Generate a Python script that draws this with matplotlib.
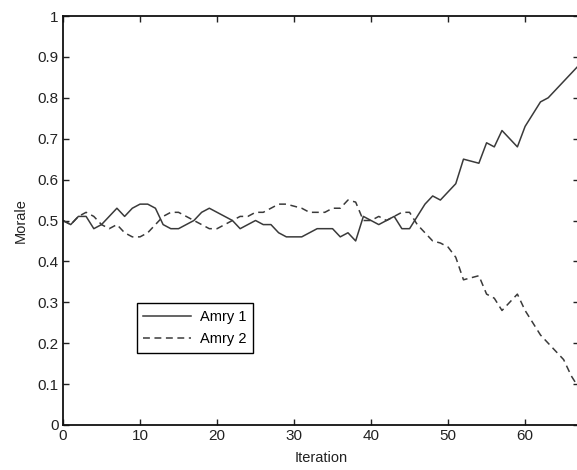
import numpy as np
import matplotlib
matplotlib.use("Agg")
import matplotlib.pyplot as plt

plt.rcParams['font.family'] = ['Liberation Sans', 'DejaVu Sans']

iterations = np.arange(0, 68)

army1 = [0.50, 0.49, 0.51, 0.51, 0.48, 0.49, 0.51, 0.53, 0.51, 0.53,
         0.54, 0.54, 0.53, 0.49, 0.48, 0.48, 0.49, 0.50, 0.52, 0.53,
         0.52, 0.51, 0.50, 0.48, 0.49, 0.50, 0.49, 0.49, 0.47, 0.46,
         0.46, 0.46, 0.47, 0.48, 0.48, 0.48, 0.46, 0.47, 0.45, 0.51,
         0.50, 0.49, 0.50, 0.51, 0.48, 0.48, 0.51, 0.54, 0.56, 0.55,
         0.57, 0.59, 0.65, 0.645, 0.64, 0.69, 0.68, 0.72, 0.70, 0.68,
         0.73, 0.76, 0.79, 0.80, 0.82, 0.84, 0.86, 0.88]

army2 = [0.50, 0.49, 0.51, 0.52, 0.51, 0.49, 0.48, 0.49, 0.47, 0.46,
         0.46, 0.47, 0.49, 0.51, 0.52, 0.52, 0.51, 0.50, 0.49, 0.48,
         0.48, 0.49, 0.50, 0.51, 0.51, 0.52, 0.52, 0.53, 0.54, 0.54,
         0.535, 0.53, 0.52, 0.52, 0.52, 0.53, 0.53, 0.55, 0.545, 0.50,
         0.50, 0.51, 0.50, 0.51, 0.52, 0.52, 0.49, 0.47, 0.45, 0.445,
         0.435, 0.41, 0.355, 0.36, 0.365, 0.32, 0.31, 0.28, 0.30, 0.32,
         0.28, 0.25, 0.22, 0.20, 0.18, 0.16, 0.12, 0.09]

labels = ["Amry 1", "Amry 2"]
xticks = [0, 10, 20, 30, 40, 50, 60]
yticks = np.round(np.arange(0, 1.01, 0.1), 1)
ytick_labels = ["0"] + [f"{v:.1f}" for v in yticks[1:-1]] + ["1"]

fig = plt.figure(figsize=(5.77, 4.70), dpi=100)
# the original is cropped: the right spine sits just past the image edge
ax = fig.add_axes([63 / 577, 45 / 470, 516 / 577, 409 / 470])

ax.plot(iterations, army1, color='#3a3a3a', lw=1.1, ls='-', label=labels[0])
ax.plot(iterations, army2, color='#3a3a3a', lw=1.1, ls=(0, (4.5, 3)), label=labels[1])

ax.set_xlim(0, 67)
ax.set_ylim(0, 1)
ax.set_xticks(xticks)
ax.set_xticklabels([str(t) for t in xticks])
ax.set_yticks(yticks)
ax.set_yticklabels(ytick_labels)
ax.tick_params(direction='in', length=4, width=1, top=True, right=True,
               labelsize=11, colors='#222222', pad=3)
for s in ax.spines.values():
    s.set_linewidth(1.3)
    s.set_color('#111111')

ax.set_xlabel("Iteration", fontsize=10.5, labelpad=6, color='#222222')
ax.set_ylabel("Morale", fontsize=10.5, labelpad=7, color='#222222')

leg = ax.legend(loc='upper left', bbox_to_anchor=(0.143, 0.298), fancybox=False,
                edgecolor='black', framealpha=1, fontsize=10.5, handlelength=3.3,
                borderpad=0.45, labelspacing=0.6, handletextpad=0.6, borderaxespad=0)
leg.get_frame().set_linewidth(1.0)

fig.savefig("out.png", dpi=100)
